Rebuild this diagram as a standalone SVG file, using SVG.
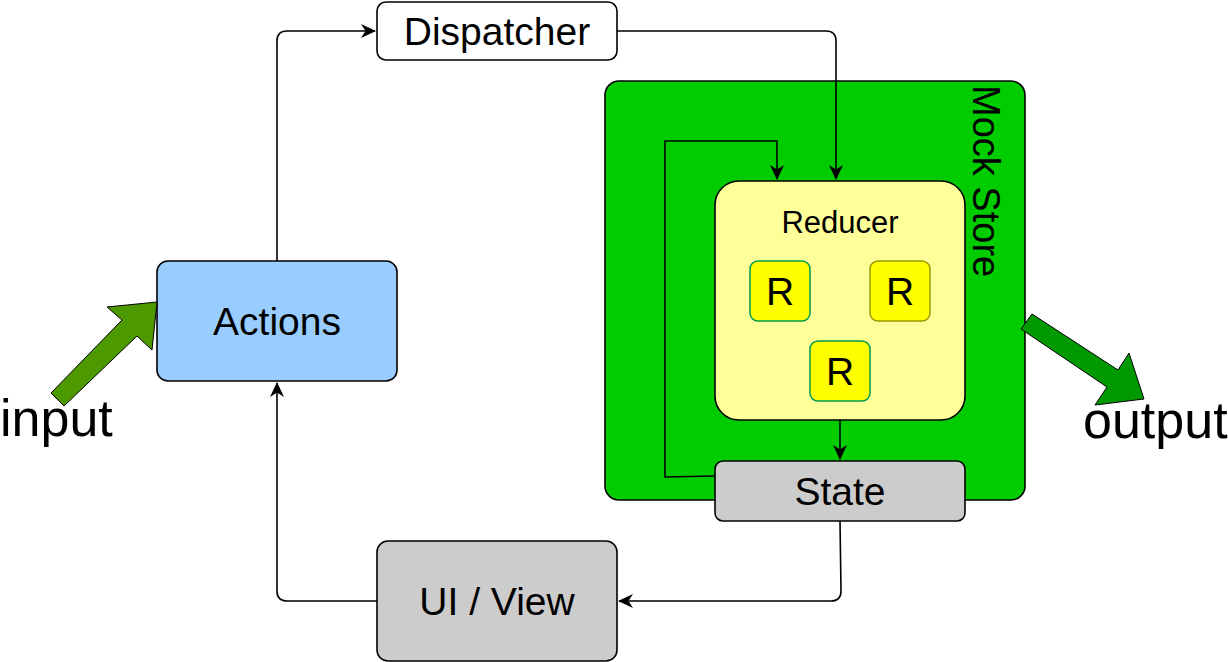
<svg xmlns="http://www.w3.org/2000/svg" width="1228" height="662" viewBox="0 0 1228 662">
<style>
text{font-family:"Liberation Sans",Arial,sans-serif;fill:#000;}
.box{stroke:#000;stroke-width:1.6;}
.c{fill:none;stroke:#000;stroke-width:1.6;}
.t39{font-size:39px;text-anchor:middle;}
</style>
<defs>
<marker id="ah" markerUnits="userSpaceOnUse" markerWidth="16" markerHeight="14" viewBox="0 0 16 14" refX="14" refY="7" orient="auto">
<path d="M0,0 L15,7 L0,14 L4.5,7 z" fill="#000"/>
</marker>
</defs>
<rect width="1228" height="662" fill="#fff"/>
<g id="mockstore">
<rect class="box" x="605" y="81" width="420" height="419" rx="14" fill="#00CC00"/>
<text transform="translate(973,85) rotate(90)" font-size="38">Mock Store</text>
</g>
<g id="connectors">
<path class="c" d="M277,261 V41 Q277,31 287,31 H375" marker-end="url(#ah)"/>
<path class="c" d="M617,31 H826 Q836,31 836,41 V179" marker-end="url(#ah)"/>
<path class="c" d="M715,476 L665,477 V141 H777 V179" marker-end="url(#ah)"/>
<path class="c" d="M840,420 V459" marker-end="url(#ah)"/>
<path class="c" d="M840,521 L841,591 Q841,601 831,601 H619" marker-end="url(#ah)"/>
<path class="c" d="M377,601 H287 Q277,601 277,591 V383" marker-end="url(#ah)"/>
</g>
<g id="dispatcher">
<rect class="box" x="377" y="2" width="240" height="58" rx="9" fill="#fff"/>
<text class="t39" x="497" y="45">Dispatcher</text>
</g>
<g id="actions">
<rect class="box" x="157" y="261" width="240" height="120" rx="11" fill="#99CCFF"/>
<text class="t39" x="277" y="335">Actions</text>
</g>
<g id="reducer">
<rect class="box" x="715" y="181" width="250" height="239" rx="24" fill="#FFFF99"/>
<text x="840" y="233" font-size="31" text-anchor="middle">Reducer</text>
</g>
<g id="r1">
<rect x="750" y="261" width="60" height="60" rx="8" fill="#FFFF00" stroke="#00994D" stroke-width="1.5"/>
<text class="t39" x="780" y="305">R</text>
</g>
<g id="r2">
<rect x="870" y="261" width="60" height="60" rx="8" fill="#FFFF00" stroke="#999900" stroke-width="1.5"/>
<text class="t39" x="900" y="305">R</text>
</g>
<g id="r3">
<rect x="810" y="341" width="60" height="60" rx="8" fill="#FFFF00" stroke="#00994D" stroke-width="1.5"/>
<text class="t39" x="840" y="385">R</text>
</g>
<g id="state">
<rect class="box" x="715" y="461" width="250" height="60" rx="8" fill="#CCCCCC"/>
<text class="t39" x="840" y="505">State</text>
</g>
<g id="uiview">
<rect class="box" x="377" y="541" width="240" height="120" rx="11" fill="#CCCCCC"/>
<text class="t39" x="497" y="615">UI / View</text>
</g>
<g id="input">
<path d="M51,393 L122,320 L107,307 L157,302 L152,350 L137,336 L64,406 Z" fill="#4D9900" stroke="#000" stroke-width="1"/>
<text x="0" y="436" font-size="52">input</text>
</g>
<g id="output">
<path d="M1032,314 L1118,370 L1129,353 L1144,399 L1095,405 L1107,387 L1021,329 Z" fill="#009900" stroke="#000" stroke-width="1"/>
<text x="1083" y="438" font-size="52">output</text>
</g>
</svg>
